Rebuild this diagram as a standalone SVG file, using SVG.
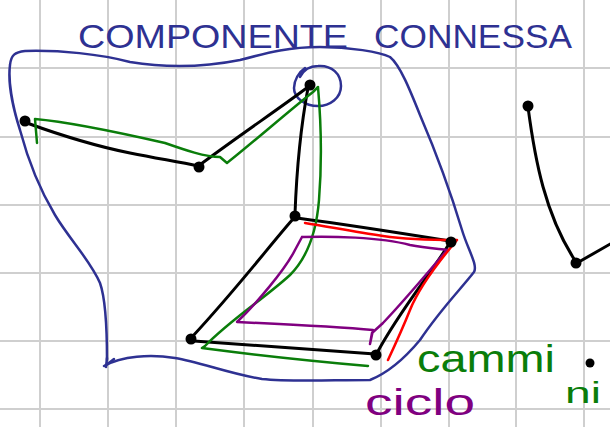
<svg xmlns="http://www.w3.org/2000/svg" width="610" height="427" viewBox="0 0 610 427">
<style>
.grid line{stroke:#cfcfcf;stroke-width:2}
.ink{fill:none;stroke-linecap:round;stroke-linejoin:round}
.blk{stroke:#000;stroke-width:3}
.blue{stroke:#2e3192;stroke-width:2.5}
.grn{stroke:#0a7d0a;stroke-width:2.5}
.pur{stroke:#800080;stroke-width:2.5}
.red{stroke:#ff0000;stroke-width:2.5}
.node circle{fill:#000}
.node ellipse{fill:#fff}
.lbl{font-family:"Liberation Sans",Arial,sans-serif}
</style>
<defs>
<g id="dot"><circle r="5.5"/><ellipse rx="2" ry="1.2"/></g>
</defs>
<rect width="610" height="427" fill="#fff"/>
<g class="grid">
<line x1="40" y1="0" x2="40" y2="427"/><line x1="108" y1="0" x2="108" y2="427"/><line x1="176" y1="0" x2="176" y2="427"/><line x1="244" y1="0" x2="244" y2="427"/><line x1="313" y1="0" x2="313" y2="427"/><line x1="381" y1="0" x2="381" y2="427"/><line x1="449" y1="0" x2="449" y2="427"/><line x1="516" y1="0" x2="516" y2="427"/><line x1="584" y1="0" x2="584" y2="427"/>
<line x1="0" y1="68" x2="610" y2="68"/><line x1="0" y1="137" x2="610" y2="137"/><line x1="0" y1="205" x2="610" y2="205"/><line x1="0" y1="273" x2="610" y2="273"/><line x1="0" y1="341" x2="610" y2="341"/><line x1="0" y1="409" x2="610" y2="409"/>
</g>
<g id="component-outline" class="ink blue">
<path d="M107,360 C107,330 106,300 100,283 C90,260 70,240 55,215 C40,190 28,160 20,130 C12,105 8,80 10,65 C11,55 15,52 25,51 C60,50 100,54 130,62 C160,67 200,68 240,60 C270,52 290,47 320,47 C350,47 380,52 390,57 C400,65 410,90 420,115 C435,150 450,190 462,230 C468,250 478,265 474,272 C460,290 440,310 420,340 C405,358 390,372 370,380 C330,380 290,382 262,379 C230,374 200,362 175,358 C150,354 122,356 104,366"/>
<path d="M107,358 L106,367 M105,366 L114,359"/>
<path d="M300,77 C304,69 311,66 318,66 C332,65 341,74 341,86 C341,98 330,106 318,106 C305,106 294,98 294,88 C294,80 299,72 305,68"/>
</g>
<g id="connectors" class="ink">
<g class="blk">
<path d="M27,123 C60,135 90,145 130,153 C160,159 180,162 198,166"/>
<path d="M201,164 C240,135 280,108 308,87"/>
<path d="M308,88 C302,120 297,160 295,214"/>
<path d="M297,218 C350,225 400,233 450,241"/>
<path d="M293,219 C270,245 240,285 192,337"/>
<path d="M194,341 C250,345 320,350 375,354"/>
<path d="M449,244 C430,275 400,310 377,353"/>
<path d="M528,107 C535,160 545,215 576,262"/>
<path d="M577,263 L612,243"/>
</g>
<path class="grn" d="M37,143 L35,119 C70,122 130,135 165,143 C185,150 205,157 220,157 L227,163 C250,145 290,110 313,92 L318,87 C320,110 323,150 319,200 C317,225 310,255 290,275 C265,298 230,320 205,346 L202,348 C240,353 300,360 368,366"/>
<path class="pur" d="M302,237 C330,236 380,237 410,245 C425,248 440,249 447,250 C430,270 405,300 383,323 L372,333 L370,344 L373,330 C340,327 280,324 237,322 C255,305 285,270 295,250 L302,237"/>
<path class="red" d="M305,223 C330,227 355,232 383,236 C410,240 440,240 457,240 C440,260 420,285 410,310 C402,330 395,345 388,360"/>
</g>
<g id="n1" class="node"><use href="#dot" x="25" y="121"/></g>
<g id="n2" class="node"><use href="#dot" x="199" y="167"/></g>
<g id="n3" class="node"><use href="#dot" x="310" y="85"/></g>
<g id="n4" class="node"><use href="#dot" x="295" y="216"/></g>
<g id="n5" class="node"><use href="#dot" x="451" y="242"/></g>
<g id="n6" class="node"><use href="#dot" x="191" y="339"/></g>
<g id="n7" class="node"><use href="#dot" x="376" y="355"/></g>
<g id="n8" class="node"><use href="#dot" x="528" y="106"/></g>
<g id="n9" class="node"><use href="#dot" x="576" y="263"/></g>
<g id="n10" class="node"><circle cx="590" cy="363" r="4.5"/></g>
<g class="lbl">
<text x="78" y="48" font-size="34" fill="#2e3192" textLength="270" lengthAdjust="spacingAndGlyphs">COMPONENTE</text>
<text x="374" y="48" font-size="34" fill="#2e3192" textLength="198" lengthAdjust="spacingAndGlyphs">CONNESSA</text>
<text x="417" y="372" font-size="38" fill="#0a7d0a" textLength="138" lengthAdjust="spacingAndGlyphs">cammi</text>
<text x="565" y="403" font-size="30" fill="#0a7d0a" textLength="36" lengthAdjust="spacingAndGlyphs">ni</text>
<text x="365" y="415" font-size="36" fill="#800080" textLength="110" lengthAdjust="spacingAndGlyphs">ciclo</text>
</g>
</svg>
